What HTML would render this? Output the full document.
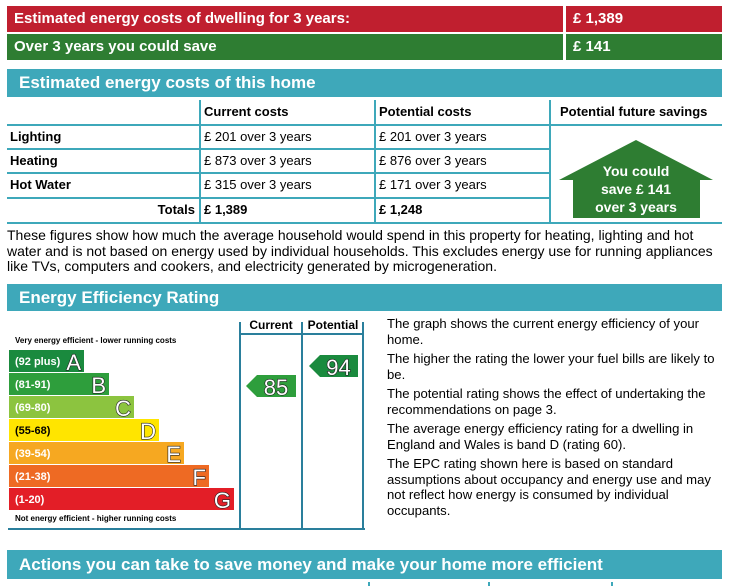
<!DOCTYPE html>
<html><head><meta charset="utf-8">
<style>
*{margin:0;padding:0;box-sizing:border-box}
body{width:729px;height:586px;background:#fff;position:relative;overflow:hidden;font-family:"Liberation Sans",Arial,sans-serif;color:#000}
.a{position:absolute}
.bar{position:absolute;color:#fff;font-weight:bold;font-size:15px;line-height:26px;padding-left:7px}
.hdr{position:absolute;background:#3ea8ba;color:#fff;font-weight:bold;font-size:17px;padding-left:12px}
.cell{position:absolute;font-size:13px;line-height:24px;padding-left:4px}
.b{font-weight:bold}
.hl{position:absolute;height:2px;background:#3ea8ba}
.vl{position:absolute;width:2px;background:#3ea8ba}
.p{font-size:13.1px;line-height:15.5px;margin-bottom:4px}
</style></head><body>
<div class="bar" style="left:7px;top:6px;width:556px;height:26px;background:#c01f2f">Estimated energy costs of dwelling for 3 years:</div>
<div class="bar" style="left:566px;top:6px;width:156px;height:26px;background:#c01f2f">£ 1,389</div>
<div class="bar" style="left:7px;top:34px;width:556px;height:26px;background:#2e7d32">Over 3 years you could save</div>
<div class="bar" style="left:566px;top:34px;width:156px;height:26px;background:#2e7d32">£ 141</div>

<div class="hdr" style="left:7px;top:69px;width:715px;height:28px;line-height:28px">Estimated energy costs of this home</div>

<div>
<div class="vl" style="left:199px;top:100px;height:123px"></div>
<div class="vl" style="left:374px;top:100px;height:123px"></div>
<div class="vl" style="left:549px;top:100px;height:123px"></div>
<div class="hl" style="left:7px;top:124px;width:715px"></div>
<div class="hl" style="left:7px;top:148px;width:543px"></div>
<div class="hl" style="left:7px;top:172px;width:543px"></div>
<div class="hl" style="left:7px;top:197px;width:543px"></div>
<div class="hl" style="left:7px;top:222px;width:715px"></div>
<div class="cell b" style="left:200px;top:100px">Current costs</div>
<div class="cell b" style="left:375px;top:100px">Potential costs</div>
<div class="cell b" style="left:556px;top:100px">Potential future savings</div>
<div class="cell b" style="left:6px;top:125px">Lighting</div>
<div class="cell" style="left:200px;top:125px">£ 201 over 3 years</div>
<div class="cell" style="left:375px;top:125px">£ 201 over 3 years</div>
<div class="cell b" style="left:6px;top:149px">Heating</div>
<div class="cell" style="left:200px;top:149px">£ 873 over 3 years</div>
<div class="cell" style="left:375px;top:149px">£ 876 over 3 years</div>
<div class="cell b" style="left:6px;top:173px">Hot Water</div>
<div class="cell" style="left:200px;top:173px">£ 315 over 3 years</div>
<div class="cell" style="left:375px;top:173px">£ 171 over 3 years</div>
<div class="cell b" style="left:100px;top:198px;width:95px;text-align:right">Totals</div>
<div class="cell b" style="left:200px;top:198px">£ 1,389</div>
<div class="cell b" style="left:375px;top:198px">£ 1,248</div>
</div>
<svg class="a" style="left:555px;top:132px" width="165" height="90">
<polygon points="81,8 158,48 145,48 145,86 18,86 18,48 4,48" fill="#2e7d32"/>
<text x="81" y="44" fill="#fff" font-size="14" font-weight="bold" text-anchor="middle" font-family="Liberation Sans, sans-serif">You could</text>
<text x="81" y="62" fill="#fff" font-size="14" font-weight="bold" text-anchor="middle" font-family="Liberation Sans, sans-serif">save £ 141</text>
<text x="81" y="80" fill="#fff" font-size="14" font-weight="bold" text-anchor="middle" font-family="Liberation Sans, sans-serif">over 3 years</text>
</svg>

<div class="a" style="left:7px;top:228px;width:718px;font-size:14px;line-height:15.5px;white-space:nowrap">These figures show how much the average household would spend in this property for heating, lighting and hot<br>water and is not based on energy used by individual households. This excludes energy use for running appliances<br>like TVs, computers and cookers, and electricity generated by microgeneration.</div>

<div class="hdr" style="left:7px;top:284px;width:715px;height:27px;line-height:27px">Energy Efficiency Rating</div>

<svg class="a" style="left:0;top:310px" width="370" height="225" id="chart"></svg>

<div class="a" style="left:387px;top:316px;width:338px">
<div class="p">The graph shows the current energy efficiency of your home.</div>
<div class="p">The higher the rating the lower your fuel bills are likely to be.</div>
<div class="p">The potential rating shows the effect of undertaking the recommendations on page 3.</div>
<div class="p">The average energy efficiency rating for a dwelling in England and Wales is band D (rating 60).</div>
<div class="p">The EPC rating shown here is based on standard assumptions about occupancy and energy use and may not reflect how energy is consumed by individual occupants.</div>
</div>

<div class="hdr" style="left:7px;top:550px;width:715px;height:29px;line-height:29px">Actions you can take to save money and make your home more efficient</div>
<div class="vl" style="left:368px;top:582px;height:4px"></div>
<div class="vl" style="left:488px;top:582px;height:4px"></div>
<div class="vl" style="left:611px;top:582px;height:4px"></div>

<script>
const bandLetters=["A","B","C","D","E","F","G"];
const bandRanges=["(92 plus)","(81-91)","(69-80)","(55-68)","(39-54)","(21-38)","(1-20)"];
const bandMins=[92,81,69,55,39,21,1];
const bandColors=["#1a8a3e","#2e9e3c","#8cc43f","#ffe500","#f6a821","#ee6a23","#e31e27"];
const currentRating=85;
const potentialRating=94;
const NS="http://www.w3.org/2000/svg";
const svg=document.getElementById('chart');
function mk(t,a){const e=document.createElementNS(NS,t);for(const k in a)e.setAttribute(k,a[k]);svg.appendChild(e);return e;}
const top0=40,rowH=23,bh=22,x0=9;
function bandY(i){return top0+i*rowH;}
function bandW(i){return 75+i*25;}
function bandOf(r){for(let i=0;i<bandMins.length;i++)if(r>=bandMins[i])return i;return 6;}
[[240,12,240,219],[302,12,302,219],[363,12,363,219]].forEach(l=>{mk('line',{x1:l[0],y1:l[1],x2:l[2],y2:l[3],stroke:'#2a7f9c','stroke-width':2});});
mk('line',{x1:240,y1:24,x2:363,y2:24,stroke:'#2a7f9c','stroke-width':2});
mk('line',{x1:8,y1:219,x2:365,y2:219,stroke:'#2a7f9c','stroke-width':2});
let t=mk('text',{x:271,y:19,'font-size':12,'font-weight':'bold','text-anchor':'middle','font-family':'Liberation Sans, sans-serif'});t.textContent='Current';
t=mk('text',{x:333,y:19,'font-size':12,'font-weight':'bold','text-anchor':'middle','font-family':'Liberation Sans, sans-serif'});t.textContent='Potential';
t=mk('text',{x:15,y:33,'font-size':8,'font-weight':'bold','font-family':'Liberation Sans, sans-serif'});t.textContent='Very energy efficient - lower running costs';
t=mk('text',{x:15,y:211,'font-size':8,'font-weight':'bold','font-family':'Liberation Sans, sans-serif'});t.textContent='Not energy efficient - higher running costs';
bandLetters.forEach((L,i)=>{
  const y=bandY(i),w=bandW(i);
  const r=mk('rect',{x:x0,y:y,width:w,height:bh,fill:bandColors[i]});
  
  
  const tr=mk('text',{x:x0+6,y:y+15,'font-size':11,'font-weight':'bold',fill:(i===3?'#000':'#fff'),'font-family':'Liberation Sans, sans-serif'});
  tr.textContent=bandRanges[i];
  const tl=mk('text',{x:x0+w-3,y:y+20,'font-size':22,'text-anchor':'end',fill:'#fff',stroke:'#222','stroke-width':1.2,'paint-order':'stroke','font-family':'Liberation Sans, sans-serif'});
  tl.textContent=L;
});
function arrow(r,xl,xr,name,dy){
  const i=bandOf(r);const y=bandY(i)+dy;
  const p=mk('polygon',{points:`${xl},${y+11} ${xl+11},${y} ${xr},${y} ${xr},${y+22} ${xl+11},${y+22}`,fill:bandColors[i]});
  
  
  const tt=mk('text',{x:(xl+xr)/2+5,y:y+20,'font-size':22,'text-anchor':'middle',fill:'#fff',stroke:'#222','stroke-width':1.2,'paint-order':'stroke','font-family':'Liberation Sans, sans-serif'});
  tt.textContent=r;
}
arrow(currentRating,246,296,'current-rating-arrow',2);
arrow(potentialRating,309,358,'potential-rating-arrow',5);
</script>
</body></html>
